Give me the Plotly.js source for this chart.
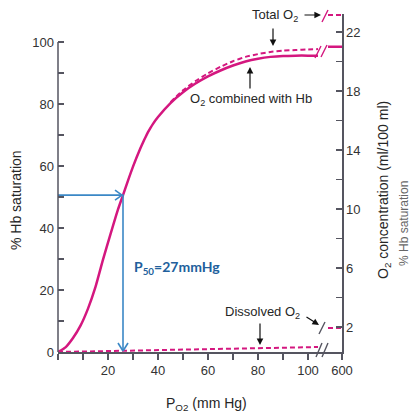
<!DOCTYPE html>
<html>
<head>
<meta charset="utf-8">
<script src="https://cdn.plot.ly/plotly-3.0.1.min.js"></script>
<style>html,body{margin:0;padding:0;background:#fff;}#chart{width:410px;height:412px;}</style>
</head>
<body>
<div id="chart"></div>
<script>
// ---- data ----
// PO2 (mm Hg) for the Hb saturation curve
const po2 = [0, 3, 6, 9, 12, 15, 18, 21, 24, 26, 28, 30, 33, 34, 35, 36, 37, 38, 40, 45, 50, 55, 60, 65, 70, 75, 80, 85, 90, 95, 100, 104];
// % Hb saturation (O2 combined with Hb)
const hbSat = [0, 1.5, 4.5, 8.5, 14, 21, 29.8, 38, 46, 50.6, 55.3, 59.8, 65.8, 67.6, 69.3, 70.9, 72.3, 73.6, 75.8, 80.3, 83.8, 86.6, 88.9, 90.8, 92.4, 93.7, 94.6, 95.2, 95.5, 95.6, 95.6, 95.6];
// Total O2 (dashed), same scale as saturation
const totalP = [45, 50, 55, 60, 65, 70, 75, 80, 85, 90, 95, 100, 104];
const totalSat = [80.6, 84.4, 87.4, 89.9, 92.0, 93.8, 95.2, 96.1, 96.8, 97.2, 97.4, 97.6, 97.7];
// Dissolved O2 (dashed)
const dissolvedP = [0, 104];
const dissolvedSat = [0, 1.6];
// values past the axis break (PO2 = 600), O2 concentration in ml/100 ml
const tailP = [108, 113.6];
const tailHb = [21.0, 21.0];
const tailTotal = [23.15, 23.15];
const tailDissolved = [1.93, 1.93];
// P50 marker
const p50 = 26;
const sat50 = 50.6;
// axis ticks
const xTickVals = [20, 40, 60, 80, 100, 113.6];
const xTickText = ['20', '40', '60', '80', '100', '600'];
const xMinorVals = [0, 10, 30, 50, 70, 90];
const yTickVals = [0, 20, 40, 60, 80, 100];
const yTickText = ['0', '20', '40', '60', '80', '100'];
const yMinorVals = [10, 30, 50, 70, 90];
const y2TickVals = [2, 6, 10, 14, 18, 22];
const y2TickText = ['2', '6', '10', '14', '18', '22'];
const y2MinorVals = [4, 8, 12, 16, 20];

// ---- layout helpers ----
const ML = 58, MR = 68, MT = 14, MB = 60, W = 410, H = 412;
const PW = W - ML - MR, PH = H - MT - MB;
const xRange = [0, 113.6], yRange = [0, 109.03], y2Range = [0.305, 23.22];
const X = px => (px - ML) / PW;             // pixel -> paper
const Y = py => (H - MB - py) / PH;
const xd = v => (v - xRange[0]) / (xRange[1] - xRange[0]); // data -> paper
const yd = v => (v - yRange[0]) / (yRange[1] - yRange[0]);

const MAG = '#d4177f', AX = '#555560', TXT = '#262626', BLUE = '#3b88c6';
const FONT = 'Liberation Sans, Arial, sans-serif';

const traces = [
  {x: po2, y: hbSat, mode: 'lines', line: {color: MAG, width: 2.5, shape: 'spline', smoothing: 0.5}, hoverinfo: 'skip'},
  {x: totalP, y: totalSat, mode: 'lines', line: {color: MAG, width: 2, dash: '5px,3px', shape: 'spline', smoothing: 0.5}, hoverinfo: 'skip'},
  {x: dissolvedP, y: dissolvedSat, mode: 'lines', line: {color: MAG, width: 2, dash: '5px,3px'}, hoverinfo: 'skip'},
  {x: tailP, y: tailHb, yaxis: 'y2', mode: 'lines', line: {color: MAG, width: 2.5}, hoverinfo: 'skip'},
  {x: tailP, y: tailTotal, yaxis: 'y2', mode: 'lines', line: {color: MAG, width: 2, dash: '5px,3px'}, hoverinfo: 'skip'},
  {x: tailP, y: tailDissolved, yaxis: 'y2', mode: 'lines', line: {color: MAG, width: 2, dash: '5px,3px'}, hoverinfo: 'skip'},
  {x: [0, p50, p50], y: [sat50, sat50, 0.3], mode: 'lines', line: {color: BLUE, width: 1.6}, hoverinfo: 'skip'}
];

const shapes = [];
function seg(x0, y0, x1, y1, color, width) {
  shapes.push({type: 'line', xref: 'paper', yref: 'paper', x0: x0, y0: y0, x1: x1, y1: y1,
    line: {color: color, width: width}});
}
// left axis line (0..100 only)
seg(0, yd(0), 0, yd(100), AX, 1.5);
// break marks
function slash(px, py, color, hw, hh) { seg(X(px - hw), Y(py + hh), X(px + hw), Y(py - hh), color, 1.4); }
slash(318, 52, MAG, 3, 6); slash(324, 51, MAG, 3, 6);
slash(325, 16, MAG, 3, 6);
slash(322, 328, AX, 3, 6);
slash(319, 350, AX, 3, 7); slash(325, 350, AX, 3, 7);
// blue chevrons
const hx = xd(p50), hy = yd(sat50);
seg(hx - 8 / PW, hy + 5 / PH, hx - 1 / PW, hy, BLUE, 1.6);
seg(hx - 8 / PW, hy - 5 / PH, hx - 1 / PW, hy, BLUE, 1.6);
seg(hx - 5 / PW, yd(0) + 9 / PH, hx, yd(0) + 1 / PH, BLUE, 1.6);
seg(hx + 5 / PW, yd(0) + 9 / PH, hx, yd(0) + 1 / PH, BLUE, 1.6);

function arrow(tx, ty, hx, hy) {
  return {xref: 'paper', yref: 'paper', x: X(hx), y: Y(hy), ax: tx - hx, ay: ty - hy, text: '',
    showarrow: true, arrowhead: 2, arrowsize: 1.1, arrowwidth: 1.2, arrowcolor: '#111'};
}
function label(px, py, text, opts) {
  return Object.assign({xref: 'paper', yref: 'paper', x: X(px), y: Y(py), text: text, showarrow: false,
    font: {family: FONT, size: 13, color: TXT}}, opts || {});
}
const annotations = [
  label(300, 15, 'Total O<sub>2</sub>', {xanchor: 'right', yanchor: 'middle'}),
  arrow(303, 15, 321, 15),
  arrow(273, 27, 273, 46),
  label(251, 100, 'O<sub>2</sub> combined with Hb', {xanchor: 'center', yanchor: 'middle'}),
  arrow(250, 90, 250, 67),
  label(302, 312, 'Dissolved O<sub>2</sub>', {xanchor: 'right', yanchor: 'middle'}),
  arrow(305, 316, 319, 325),
  arrow(260, 322, 260, 345),
  label(132, 267, '<b>P<sub>50</sub>=27mmHg</b>', {xanchor: 'left', yanchor: 'middle',
    font: {family: 'Lato, Open Sans, sans-serif', size: 14, color: '#225f9c'}}),
  label(16, 200, '% Hb saturation', {textangle: -90, xanchor: 'center', yanchor: 'middle', font: {family: FONT, size: 14, color: TXT}}),
  label(384, 190, 'O<sub>2</sub> concentration (ml/100 ml)', {textangle: -90, xanchor: 'center', yanchor: 'middle', font: {family: FONT, size: 14, color: TXT}}),
  label(404, 224, '% Hb saturation', {textangle: -90, xanchor: 'center', yanchor: 'middle', font: {family: FONT, size: 12, color: '#666'}}),
  label(206, 404, 'P<sub>O2</sub> (mm Hg)', {xanchor: 'center', yanchor: 'middle', font: {family: FONT, size: 14, color: TXT}})
];

const axisCommon = {showgrid: false, zeroline: false, tickcolor: AX, tickwidth: 1.3, ticklen: 6,
  tickfont: {family: FONT, size: 13, color: '#333'}, fixedrange: true};

const layout = {
  width: W, height: H,
  margin: {l: ML, r: MR, t: MT, b: MB, pad: 0},
  paper_bgcolor: '#fff', plot_bgcolor: '#fff',
  showlegend: false,
  xaxis: Object.assign({}, axisCommon, {range: xRange, tickmode: 'array', tickvals: xTickVals, ticktext: xTickText,
    ticks: 'outside', showline: true, linecolor: AX, linewidth: 1.5,
    minor: {tickmode: 'array', tickvals: xMinorVals, ticks: 'outside', ticklen: 6, tickcolor: AX, tickwidth: 1.3, showgrid: false}}),
  yaxis: Object.assign({}, axisCommon, {range: yRange, tickmode: 'array', tickvals: yTickVals, ticktext: yTickText,
    ticks: 'inside', showline: false, ticklabelstandoff: 3,
    minor: {tickmode: 'array', tickvals: yMinorVals, ticks: 'inside', ticklen: 6, tickcolor: AX, tickwidth: 1.3, showgrid: false}}),
  yaxis2: Object.assign({}, axisCommon, {range: y2Range, overlaying: 'y', side: 'right', tickmode: 'array',
    tickvals: y2TickVals, ticktext: y2TickText, ticks: 'inside', showline: true, linecolor: AX, linewidth: 1.5,
    minor: {tickmode: 'array', tickvals: y2MinorVals, ticks: 'inside', ticklen: 6, tickcolor: AX, tickwidth: 1.3, showgrid: false}}),
  shapes: shapes,
  annotations: annotations
};

Plotly.newPlot('chart', traces, layout, {staticPlot: true, displayModeBar: false});
</script>
</body>
</html>
